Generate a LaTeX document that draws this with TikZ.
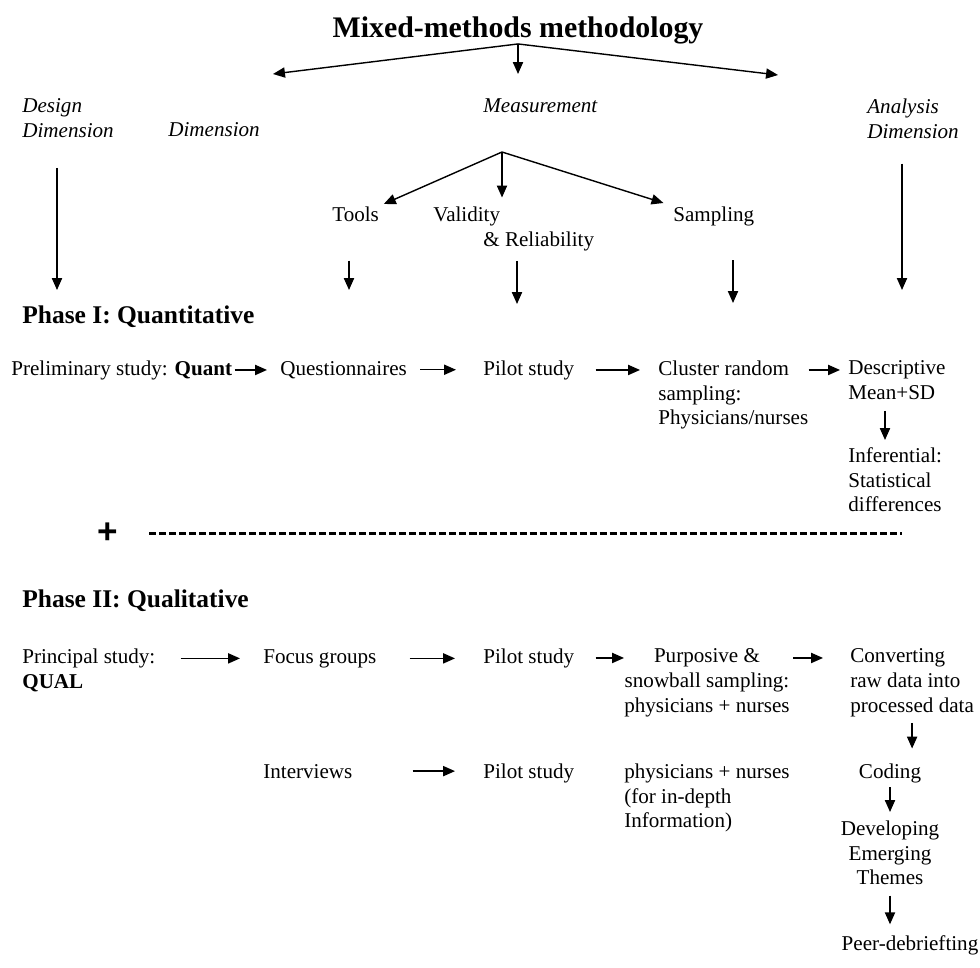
\documentclass[tikz,border=0pt]{standalone}
\usepackage{fontspec}
\setmainfont{Liberation Serif}
\setsansfont{Liberation Sans}
\usetikzlibrary{arrows.meta, positioning, calc}

\begin{document}
\begin{tikzpicture}[x=0.02cm, y=-0.02cm,
  lbl/.style={inner sep=0pt, font=\fontsize{12}{14}\selectfont},
  dim/.style={lbl, font=\fontsize{12}{14}\selectfont\itshape, align=left, anchor=north west},
  head/.style={inner sep=0pt, anchor=base west, font=\fontsize{14.5}{17}\selectfont\bfseries},
  arr/.style={line width=0.8pt, -{Triangle[length=6.8pt, width=5.8pt]}}]
  \useasboundingbox (0,0) rectangle (980,967);

  % Title and the three dimensions
  \node[inner sep=0pt, anchor=base, font=\fontsize{17}{20}\selectfont\bfseries] (title) at (518,37) {Mixed-methods methodology};
  \coordinate (tl) at (273,74);
  \coordinate (tm) at (518,74);
  \coordinate (tr) at (778,75);
  \draw[arr] (title.south) -- (tl);
  \draw[arr] (title.south) -- (tm);
  \draw[arr] (title.south) -- (tr);

  \node[dim] (design) at (22,98.5) {Design\\Dimension};
  \node[dim] (measdim) at (168,122.5) {Dimension};
  \node[dim] (meas) at (483,98.5) {Measurement};
  \node[dim] (analysis) at (867,98.5) {Analysis\\Dimension};

  % Measurement branches
  \coordinate (mj) at (502,152);
  \node[lbl, anchor=base west] (tools) at (332,221) {Tools};
  \node[lbl, anchor=north west, align=left] (valid) at (433,206.5) {Validity\\\hspace*{1cm}\& Reliability};
  \node[lbl, anchor=base west] (samp) at (673,221) {Sampling};
  \draw[arr, shorten >=0.1cm] (mj) -- (tools.north east);
  \draw[arr, shorten >=0.18cm] (mj) -- (mj |- valid.north);
  \draw[arr, shorten >=0.2cm] (mj) -- (samp.north west);

  % Down arrows into phase I
  \coordinate (designE) at (57,290);
  \coordinate (toolsE) at (349,290);
  \coordinate (validE) at (517,304);
  \coordinate (sampE) at (733,303);
  \coordinate (anaE) at (902,290);
  \draw[arr, shorten <=0.6cm] (design.south -| designE) -- (designE);
  \draw[arr, shorten <=0.78cm] (tools.south -| toolsE) -- (toolsE);
  \draw[arr, shorten <=0.2cm] (valid.south -| validE) -- (validE);
  \draw[arr, shorten <=0.69cm] (samp.south -| sampE) -- (sampE);
  \draw[arr, shorten <=0.5cm] (analysis.south -| anaE) -- (anaE);

  % Phase I
  \node[head] (phaseI) at (22,323) {Phase I: Quantitative};
  \node[lbl, anchor=base west] (prel) at (11,375) {Preliminary study: \textbf{Quant}};
  \node[lbl, anchor=base west] (quest) at (280,375) {Questionnaires};
  \node[lbl, anchor=base west] (pilotA) at (483,375) {Pilot study};
  \node[lbl, anchor=north west, align=left] (cluster) at (658,360.5) {Cluster random\\sampling:\\Physicians/nurses};
  \node[lbl, anchor=north west, align=left] (desc) at (848,360.5) {Descriptive\\Mean+SD};
  \node[lbl, anchor=north west, align=left] (infer) at (848,447.5) {Inferential:\\Statistical\\differences};
  \draw[arr, shorten <=0.04cm, shorten >=0.26cm] (prel.east) -- (prel.east -| quest.west);
  \draw[arr, shorten <=0.26cm, shorten >=0.54cm] (quest.east) -- (quest.east -| pilotA.west);
  \draw[arr, shorten <=0.42cm, shorten >=0.36cm] (pilotA.east) -- (pilotA.east -| cluster.west);
  \draw[arr, shorten >=0.16cm] (cluster.east |- pilotA.east) -- (desc.west |- pilotA.east);
  \draw[arr, shorten <=0.22cm, shorten >=0.15cm] ([xshift=0.74cm]desc.south west) -- ([xshift=0.74cm]infer.north west);

  % Separator between the phases
  \node[inner sep=0pt, font=\fontsize{20}{20}\selectfont\sffamily\bfseries] (plus) at (108,533) {+};
  \draw[line width=1.7pt, dash pattern=on 4pt off 1.7pt] (149,533) -- (902,533);

  % Phase II
  \node[head] (phaseII) at (22,607) {Phase II: Qualitative};
  \node[lbl, anchor=north west, align=left] (princ) at (22,648.5) {Principal study:\\\textbf{QUAL}};
  \node[lbl, anchor=base west] (focus) at (263,663) {Focus groups};
  \node[lbl, anchor=base west] (pilotB) at (483,663) {Pilot study};
  \node[lbl, anchor=north, align=center] (purp) at (707,648.5) {Purposive \&\\snowball sampling:\\physicians + nurses};
  \node[lbl, anchor=north west, align=left] (conv) at (850,648.5) {Converting\\raw data into\\processed data};
  \draw[arr, shorten <=0.5cm, shorten >=0.46cm] (princ.east |- focus.east) -- (focus.west);
  \draw[arr, shorten <=0.66cm, shorten >=0.56cm] (focus.east) -- (focus.east -| pilotB.west);
  \draw[arr, shorten <=0.42cm] (pilotB.east) -- (pilotB.east -| purp.west);
  \draw[arr, shorten <=0.06cm, shorten >=0.54cm] (purp.east |- pilotB.east) -- (conv.west |- pilotB.east);

  \node[lbl, anchor=base west] (interv) at (263,778) {Interviews};
  \node[lbl, anchor=base west] (pilotC) at (483,778) {Pilot study};
  \node[lbl, anchor=north west, align=left] (phys) at (624,763.5) {physicians + nurses\\(for in-depth\\Information)};
  \node[lbl, anchor=base] (coding) at (890,778) {Coding};
  \node[lbl, anchor=north, align=center] (devel) at (890,820.5) {Developing\\Emerging\\Themes};
  \node[lbl, anchor=base] (peer) at (910,950) {Peer-debriefting};
  \draw[arr, shorten <=1.2cm, shorten >=0.56cm] (interv.east) -- (interv.east -| pilotC.west);
  \draw[arr, shorten <=0.12cm, shorten >=0.29cm] (conv.south) -- (conv.south |- coding.north);
  \draw[arr, shorten <=0.09cm, shorten >=0.17cm] (coding.south) -- (devel.north);
  \draw[arr, shorten <=0.21cm, shorten >=0.21cm] (devel.south) -- (devel.south |- peer.north);
\end{tikzpicture}
\end{document}
